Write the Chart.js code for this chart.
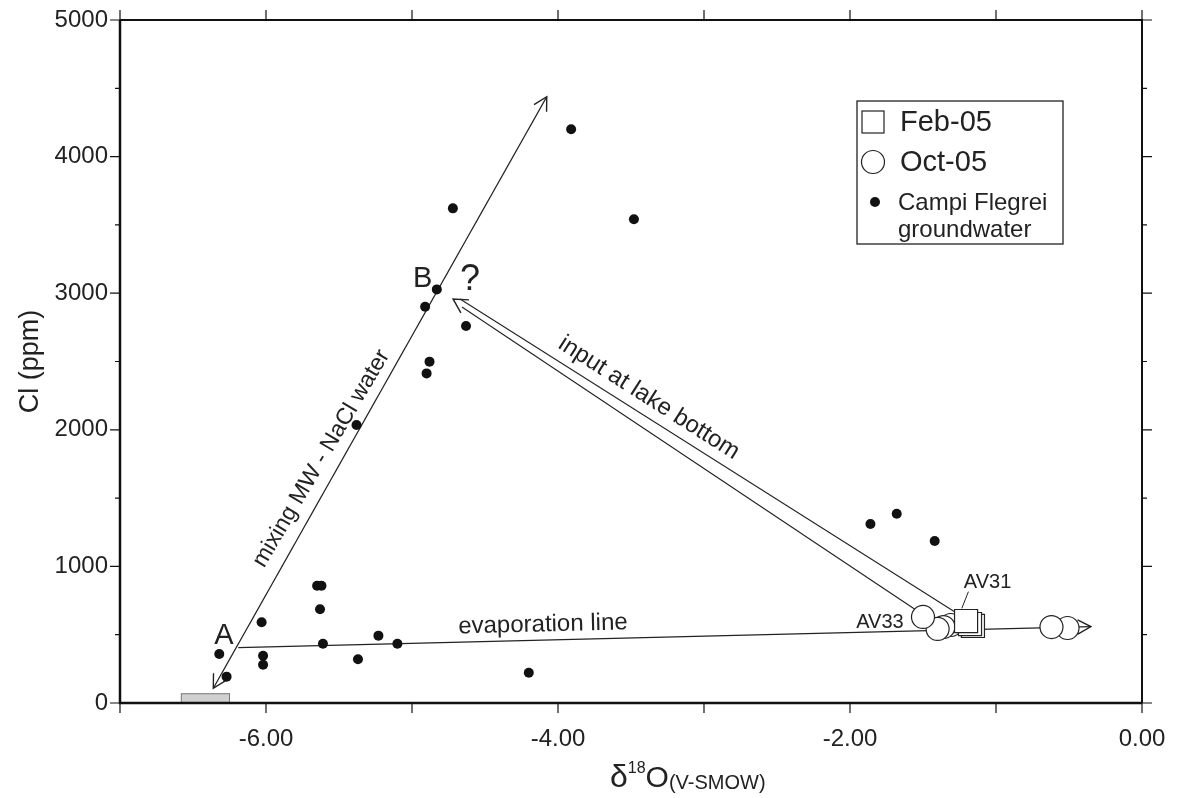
<!DOCTYPE html>
<html>
<head>
<meta charset="utf-8">
<script src="https://cdn.jsdelivr.net/npm/chart.js@4.4.1/dist/chart.umd.min.js"></script>
<style>
  html, body { margin: 0; padding: 0; background: #fff; }
  #wrap { width: 1180px; height: 798px; }
</style>
</head>
<body>
<div id="wrap"><canvas id="chart"></canvas></div>
<script>
// Campi Flegrei groundwater (d18O, Cl ppm)
const gwD18O = [-6.32, -6.27, -6.03, -6.02, -6.02, -5.65, -5.62, -5.63, -5.61, -5.23, -5.10, -5.37, -4.20,
                -5.38, -4.90, -4.88, -4.63, -4.91, -4.83, -4.72, -3.91, -3.48, -1.86, -1.68, -1.42];
const gwCl = [359, 193, 591, 346, 280, 859, 859, 686, 434, 493, 434, 320, 222,
              2035, 2413, 2499, 2760, 2901, 3028, 3621, 4200, 3541, 1310, 1386, 1186];

// lake samples
const febD18O = [-1.158, -1.178, -1.205];
const febCl = [564, 578, 600];
const octD18O = [-1.31, -1.36, -1.40, -1.50, -0.51, -0.62];
const octCl = [571, 556, 542, 630, 549, 556];

// trend lines (start, end)
const mixX = [-6.361, -4.077];
const mixY = [108, 4438];
const evapX = [-6.19, -0.35];
const evapY = [405, 559];
const inUpX = [-4.671, -1.281];
const inUpY = [2958, 666];
const inLowX = [-4.658, -1.548];
const inLowY = [2899, 681];
const inTipX = -4.719;
const inTipY = 2958;

// meteoric water box
const boxX = [-6.58, -6.25];
const boxY = [0, 68];

// axis ticks
const xTickVals = [-6, -4, -2, 0];
const yTickVals = [0, 1000, 2000, 3000, 4000, 5000];

// text notes on the plot
const noteText = ['A', 'B', '?', 'mixing MW - NaCl water', 'input at lake bottom', 'evaporation line', 'AV33', 'AV31'];
const noteX = [-6.288, -4.927, -4.603, -5.620, -3.377, -4.103, -1.795, -1.058];
const noteY = [494, 3104, 3097, 1790, 2233, 573, 586, 884];
const av31LeadX = [-1.189, -1.234];
const av31LeadY = [815, 693];

const FONT = '"Liberation Sans", Arial, Helvetica, sans-serif';
const INK = '#222';

const toXY = (xs, ys) => xs.map((x, i) => ({ x: x, y: ys[i] }));

function arrowHead(ctx, tx, ty, fx, fy, len, ang) {
    const a = Math.atan2(fy - ty, fx - tx);
    ctx.beginPath();
    ctx.moveTo(tx + len * Math.cos(a - ang), ty + len * Math.sin(a - ang));
    ctx.lineTo(tx, ty);
    ctx.lineTo(tx + len * Math.cos(a + ang), ty + len * Math.sin(a + ang));
    ctx.stroke();
}

// keep the plot frame where the layout padding puts it
function fixBox(scale, w, h) {
    if (w) scale.width = w;
    if (h) scale.height = h;
    scale.paddingTop = 0;
    scale.paddingBottom = 0;
    scale.paddingLeft = 0;
    scale.paddingRight = 0;
}

const decorPlugin = {
    id: 'decor',
    beforeDatasetsDraw(chart) {
        const { ctx } = chart;
        const xs = chart.scales.x, ys = chart.scales.y;
        ctx.save();
        // grey box
        const bx0 = xs.getPixelForValue(boxX[0]), bx1 = xs.getPixelForValue(boxX[1]);
        const by0 = ys.getPixelForValue(boxY[0]), by1 = ys.getPixelForValue(boxY[1]);
        ctx.fillStyle = '#d0d0d0';
        ctx.strokeStyle = '#777';
        ctx.lineWidth = 1;
        ctx.fillRect(bx0, by1, bx1 - bx0, by0 - by1);
        ctx.strokeRect(bx0, by1, bx1 - bx0, by0 - by1);

        // arrow heads
        ctx.strokeStyle = INK;
        ctx.lineWidth = 1.4;
        const px = v => xs.getPixelForValue(v), py = v => ys.getPixelForValue(v);
        arrowHead(ctx, px(mixX[0]), py(mixY[0]), px(mixX[1]), py(mixY[1]), 15, 0.5);
        arrowHead(ctx, px(mixX[1]), py(mixY[1]), px(mixX[0]), py(mixY[0]), 15, 0.5);
        arrowHead(ctx, px(evapX[1]), py(evapY[1]), px(evapX[0]), py(evapY[0]), 15, 0.5);
        arrowHead(ctx, px(inTipX), py(inTipY), px(inUpX[1]), py(inUpY[1]), 16, 0.5);

        // AV31 leader
        ctx.lineWidth = 1;
        ctx.beginPath();
        ctx.moveTo(px(av31LeadX[0]), py(av31LeadY[0]));
        ctx.lineTo(px(av31LeadX[1]), py(av31LeadY[1]));
        ctx.stroke();
        ctx.restore();
    },
    afterDraw(chart) {
        const { ctx, chartArea: ca } = chart;
        const xs = chart.scales.x, ys = chart.scales.y;
        ctx.save();

        // frame
        ctx.strokeStyle = '#111';
        ctx.lineWidth = 2;
        ctx.beginPath();
        ctx.moveTo(ca.left, ca.top);
        ctx.lineTo(ca.right, ca.top);
        ctx.lineTo(ca.right, ca.bottom);
        ctx.stroke();
        ctx.lineWidth = 2.5;
        ctx.beginPath();
        ctx.moveTo(ca.left, ca.top);
        ctx.lineTo(ca.left, ca.bottom);
        ctx.lineTo(ca.right, ca.bottom);
        ctx.stroke();

        // tick marks, all sides outward
        ctx.lineWidth = 1.2;
        ctx.beginPath();
        for (let v = -7; v <= 0; v++) {
            const x = xs.getPixelForValue(v);
            ctx.moveTo(x, ca.bottom); ctx.lineTo(x, ca.bottom + 10);
            ctx.moveTo(x, ca.top); ctx.lineTo(x, ca.top - 10);
        }
        for (let v = 0; v <= 5000; v += 500) {
            const y = ys.getPixelForValue(v);
            const len = v % 1000 === 0 ? 10 : 5;
            ctx.moveTo(ca.left, y); ctx.lineTo(ca.left - len, y);
            ctx.moveTo(ca.right, y); ctx.lineTo(ca.right + len, y);
        }
        ctx.stroke();

        // notes
        const sizes = [29, 29, 36, 23, 24, 24, 20, 20];
        const angles = [0, 0, 0, -59.5, 32.5, -1.4, 0, 0];
        ctx.fillStyle = INK;
        ctx.textAlign = 'center';
        ctx.textBaseline = 'middle';
        noteText.forEach((t, i) => {
            ctx.save();
            ctx.translate(xs.getPixelForValue(noteX[i]), ys.getPixelForValue(noteY[i]));
            ctx.rotate(angles[i] * Math.PI / 180);
            ctx.font = sizes[i] + 'px ' + FONT;
            ctx.fillText(t, 0, 0);
            ctx.restore();
        });

        // x axis title: d18O(V-SMOW)
        ctx.textAlign = 'left';
        ctx.textBaseline = 'alphabetic';
        let tx = 610;
        ctx.font = '32px ' + FONT;
        ctx.fillText('\u03B4', tx, 787);
        tx += ctx.measureText('\u03B4').width;
        ctx.font = '16px ' + FONT;
        ctx.fillText('18', tx, 773);
        tx += ctx.measureText('18').width;
        ctx.font = '30px ' + FONT;
        ctx.fillText('O', tx, 787);
        tx += ctx.measureText('O').width;
        ctx.font = '20px ' + FONT;
        ctx.fillText('(V-SMOW)', tx, 789);

        // legend
        ctx.strokeStyle = INK;
        ctx.lineWidth = 1.3;
        ctx.strokeRect(857, 101, 206, 143);
        ctx.fillStyle = '#fff';
        ctx.lineWidth = 1.2;
        ctx.fillRect(862, 111, 22, 22);
        ctx.strokeRect(862, 111, 22, 22);
        ctx.beginPath();
        ctx.arc(873, 162, 11.5, 0, Math.PI * 2);
        ctx.fill();
        ctx.stroke();
        ctx.fillStyle = '#111';
        ctx.beginPath();
        ctx.arc(875, 202, 5, 0, Math.PI * 2);
        ctx.fill();
        ctx.fillStyle = INK;
        ctx.textBaseline = 'middle';
        ctx.font = '29px ' + FONT;
        ctx.fillText('Feb-05', 900, 123);
        ctx.fillText('Oct-05', 900, 163);
        ctx.font = '24px ' + FONT;
        ctx.fillText('Campi Flegrei', 898, 203);
        ctx.fillText('groundwater', 898, 230);

        ctx.restore();
    }
};

const lineStyle = { type: 'line', borderColor: INK, borderWidth: 1.3, pointRadius: 0, fill: false, tension: 0 };

new Chart(document.getElementById('chart'), {
    type: 'scatter',
    data: {
        datasets: [
            {
                label: 'Feb-05',
                data: toXY(febD18O, febCl),
                pointStyle: 'rect',
                pointRadius: 16.3,
                backgroundColor: '#fff',
                borderColor: INK,
                borderWidth: 1.2
            },
            {
                label: 'Oct-05',
                data: toXY(octD18O, octCl),
                pointStyle: 'circle',
                pointRadius: 11.5,
                backgroundColor: '#fff',
                borderColor: INK,
                borderWidth: 1.2
            },
            {
                label: 'Campi Flegrei groundwater',
                data: toXY(gwD18O, gwCl),
                pointStyle: 'circle',
                pointRadius: 5,
                backgroundColor: '#111',
                borderColor: '#111',
                borderWidth: 0
            },
            Object.assign({ label: 'mixing', data: toXY(mixX, mixY) }, lineStyle),
            Object.assign({ label: 'evaporation', data: toXY(evapX, evapY) }, lineStyle),
            Object.assign({ label: 'input upper', data: toXY(inUpX, inUpY) }, lineStyle, { borderWidth: 1.1 }),
            Object.assign({ label: 'input lower', data: toXY(inLowX, inLowY) }, lineStyle, { borderWidth: 1.1 })
        ]
    },
    options: {
        responsive: true,
        maintainAspectRatio: false,
        animation: false,
        events: [],
        layout: { padding: { top: 20, right: 38, left: 0, bottom: 0 } },
        plugins: {
            legend: { display: false },
            tooltip: { enabled: false }
        },
        scales: {
            x: {
                type: 'linear',
                position: 'bottom',
                min: -7,
                max: 0,
                afterBuildTicks: (scale) => { scale.ticks = xTickVals.map(v => ({ value: v })); },
                afterFit: (scale) => fixBox(scale, 0, 95),
                grid: { display: false, drawTicks: false },
                border: { display: false },
                ticks: {
                    padding: 22,
                    color: INK,
                    font: { family: FONT, size: 24 },
                    callback: (v) => Number(v).toFixed(2)
                }
            },
            y: {
                type: 'linear',
                position: 'left',
                min: 0,
                max: 5000,
                afterBuildTicks: (scale) => { scale.ticks = yTickVals.map(v => ({ value: v })); },
                afterFit: (scale) => fixBox(scale, 120, 0),
                grid: { display: false, drawTicks: false },
                border: { display: false },
                ticks: {
                    padding: 12,
                    color: INK,
                    font: { family: FONT, size: 24 },
                    callback: (v) => String(v)
                },
                title: {
                    display: true,
                    text: 'Cl (ppm)',
                    color: INK,
                    font: { family: FONT, size: 27 },
                    padding: { top: 14, bottom: 0 }
                }
            }
        }
    },
    plugins: [decorPlugin]
});
</script>
</body>
</html>
